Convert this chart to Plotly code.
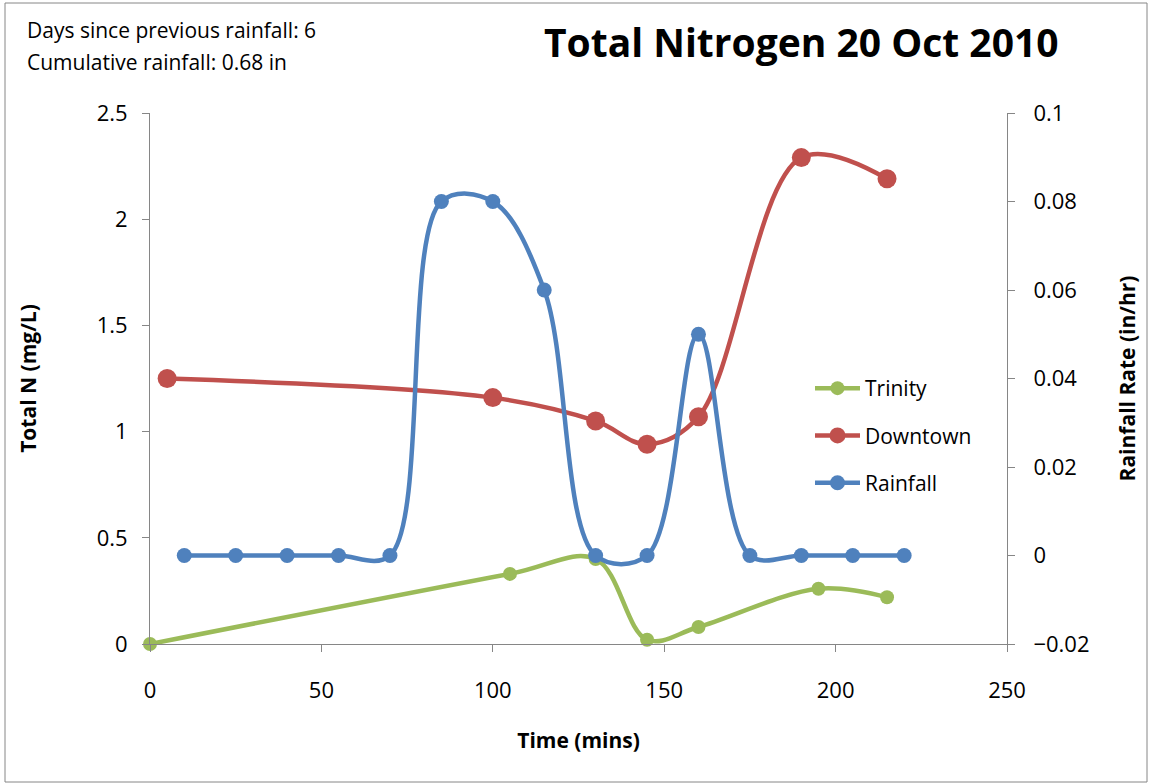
import plotly.graph_objects as go

# Data
trinity_x = [0, 105, 130, 145, 160, 195, 215]
trinity_y = [0.0, 0.33, 0.40, 0.02, 0.08, 0.26, 0.22]

downtown_x = [5, 100, 130, 145, 160, 190, 215]
downtown_y = [1.25, 1.16, 1.05, 0.94, 1.07, 2.29, 2.19]

rain_x = [10, 25, 40, 55, 70, 85, 100, 115, 130, 145, 160, 175, 190, 205, 220]
rain_y = [0, 0, 0, 0, 0, 0.08, 0.08, 0.06, 0, 0, 0.05, 0, 0, 0, 0]

x_ticks = [0, 50, 100, 150, 200, 250]
yl_ticks = [0, 0.5, 1, 1.5, 2, 2.5]
yr_ticks = [-0.02, 0, 0.02, 0.04, 0.06, 0.08, 0.1]

GREEN = "#9BBB59"
RED = "#C0504D"
BLUE = "#4F81BD"
AXIS = "#868686"
FONT = "Open Sans"

fig = go.Figure()
fig.add_trace(go.Scatter(
    x=trinity_x, y=trinity_y, name="Trinity", mode="lines+markers", cliponaxis=False,
    line=dict(color=GREEN, width=4.5, shape="spline", smoothing=1),
    marker=dict(color=GREEN, size=14), legendgroup="a", yaxis="y"))
fig.add_trace(go.Scatter(
    x=downtown_x, y=downtown_y, name="Downtown", mode="lines+markers", cliponaxis=False,
    line=dict(color=RED, width=4.5, shape="spline", smoothing=1),
    marker=dict(color=RED, size=19), legendgroup="b", yaxis="y"))
fig.add_trace(go.Scatter(
    x=rain_x, y=rain_y, name="Rainfall", mode="lines+markers", cliponaxis=False,
    line=dict(color=BLUE, width=4.5, shape="spline", smoothing=1),
    marker=dict(color=BLUE, size=15), legendgroup="c", yaxis="y2"))

L, R, T, B = 150, 143, 113, 140
W, H = 1150, 784
pw, ph = W - L - R, H - T - B

def px(x):
    return (x - L) / pw

def py(y):
    return (H - B - y) / ph

axis_common = dict(showline=True, linecolor=AXIS, linewidth=1, ticks="outside",
                   ticklen=7, tickcolor=AXIS, showgrid=False, zeroline=False,
                   tickfont=dict(family=FONT, size=22, color="black"))

fig.update_layout(
    width=W, height=H,
    margin=dict(l=L, r=R, t=T, b=B),
    paper_bgcolor="white", plot_bgcolor="white",
    font=dict(family=FONT, color="black"),
    showlegend=True,
    legend=dict(x=px(810), y=py(368), xanchor="left", yanchor="top",
                font=dict(family=FONT, size=21), tracegroupgap=17, itemwidth=45,
                traceorder="grouped", bgcolor="rgba(0,0,0,0)"),
    xaxis=dict(range=[0, 250], tickvals=x_ticks, ticklabelstandoff=20,
               title=dict(text="<b>Time (mins)</b>", font=dict(family=FONT, size=21), standoff=29),
               **axis_common),
    yaxis=dict(range=[0, 2.5], tickvals=yl_ticks, ticklabelstandoff=10,
               title=dict(text="<b>Total N (mg/L)</b>", font=dict(family=FONT, size=21), standoff=54),
               **axis_common),
    yaxis2=dict(range=[-0.02, 0.1], tickvals=yr_ticks, overlaying="y", side="right",
                ticklabelstandoff=14,
                title=dict(text="<b>Rainfall Rate (in/hr)</b>", font=dict(family=FONT, size=21), standoff=31),
                **axis_common),
)

fig.add_annotation(text="<b>Total Nitrogen 20 Oct 2010</b>", xref="paper", yref="paper",
                   x=px(801), y=py(42), xanchor="center", yanchor="middle",
                   showarrow=False, font=dict(family=FONT, size=39, color="black"))
fig.add_annotation(text="Days since previous rainfall: 6", xref="paper", yref="paper",
                   x=px(25), y=py(30), xanchor="left", yanchor="middle",
                   showarrow=False, font=dict(family=FONT, size=21, color="black"))
fig.add_annotation(text="Cumulative rainfall: 0.68 in", xref="paper", yref="paper",
                   x=px(25), y=py(62), xanchor="left", yanchor="middle",
                   showarrow=False, font=dict(family=FONT, size=21, color="black"))

fig.add_shape(type="rect", xref="paper", yref="paper",
              x0=px(5), x1=px(1147), y0=py(3), y1=py(782),
              line=dict(color=AXIS, width=1), fillcolor="rgba(0,0,0,0)", layer="below")

fig.write_html("out.html", config={"displayModeBar": False},
               post_script="document.body.style.margin='0';")
